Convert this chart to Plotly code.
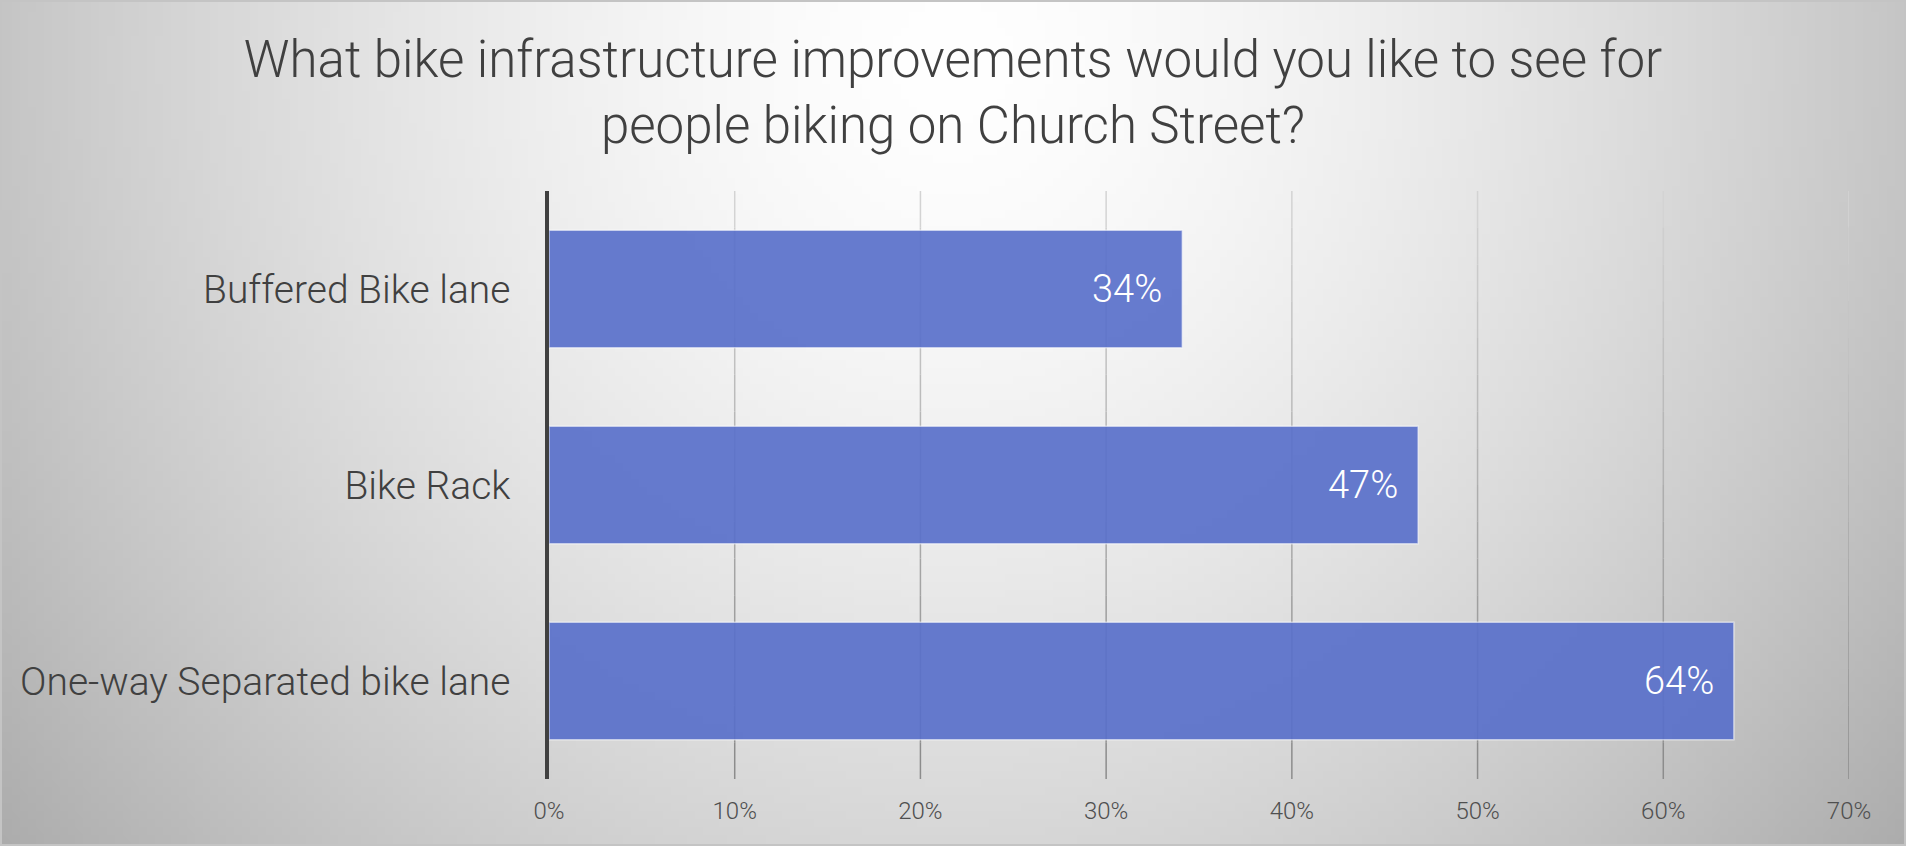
import base64
import struct
import zlib

import plotly.graph_objects as go

# ---------------- data ----------------
categories = ["Buffered Bike lane", "Bike Rack", "One-way Separated bike lane"]
values = [34.1, 46.8, 63.8]
label_texts = ["34%", "47%", "64%"]
tick_values = [0, 10, 20, 30, 40, 50, 60, 70]
tick_labels = ["0%", "10%", "20%", "30%", "40%", "50%", "60%", "70%"]
title_text = "What bike infrastructure improvements would you like to see for<br>people biking on Church Street?"

W, H = 1906, 846
ML, MR, MT, MB = 549, 57, 191, 67
PW, PH = W - ML - MR, H - MT - MB
FONT = "Roboto, Liberation Sans, sans-serif"


# ---------------- background gradient image ----------------
def gradient_png(pw, ph):
    rows = []
    for j in range(ph):
        row = bytearray([0])
        y = (j + 0.5) * H / ph
        for i in range(pw):
            x = (i + 0.5) * W / pw
            dx = (x - 953) / 960.0
            dy = (y - 60) / 1000.0
            d = (dx * dx + dy * dy) ** 0.5
            v = int(max(170, min(255, 255 - 58 * d ** 1.5)))
            row += bytes([v, v, v])
        rows.append(bytes(row))
    raw = b"".join(rows)

    def chunk(tag, data):
        c = struct.pack(">I", len(data)) + tag + data
        return c + struct.pack(">I", zlib.crc32(tag + data) & 0xFFFFFFFF)

    png = b"\x89PNG\r\n\x1a\n"
    png += chunk(b"IHDR", struct.pack(">IIBBBBB", pw, ph, 8, 2, 0, 0, 0))
    png += chunk(b"IDAT", zlib.compress(raw, 9))
    png += chunk(b"IEND", b"")
    return "data:image/png;base64," + base64.b64encode(png).decode()


bg = gradient_png(240, 107)

fig = go.Figure()
fig.add_trace(
    go.Bar(
        x=values,
        y=categories,
        orientation="h",
        marker=dict(color="rgba(89,112,202,0.92)", line=dict(color="rgba(255,255,255,0.55)", width=1.5)),
        hoverinfo="skip",
        showlegend=False,
    )
)

# data labels
for v, c, t in zip(values, categories, label_texts):
    fig.add_annotation(
        x=v, y=c, xref="x", yref="y", text=t, showarrow=False,
        xanchor="right", yanchor="middle", xshift=-18,
        font=dict(family=FONT, size=38, color="white", weight=300),
    )

# gridlines with vertical gradient
shapes = []
nseg = 16
top_c, bot_c = 214, 138
for tv in tick_values[1:]:
    for k in range(nseg):
        y0 = 1 - k / nseg
        y1 = 1 - (k + 1) / nseg
        t = (k + 0.5) / nseg
        c = int(top_c + (bot_c - top_c) * t)
        shapes.append(dict(
            type="line", xref="x", yref="y domain", x0=tv, x1=tv, y0=y0, y1=y1,
            line=dict(color=f"rgb({c},{c},{c})", width=1.5), layer="below",
        ))
# outer border of the chart area
shapes.append(dict(
    type="rect", xref="paper", yref="paper",
    x0=(1 - ML) / PW, x1=(W - 1 - ML) / PW,
    y0=-(MB - 1) / PH, y1=1 + (MT - 1) / PH,
    line=dict(color="#c4c4c4", width=2), layer="above",
))

fig.update_layout(
    width=W, height=H,
    margin=dict(l=ML, r=MR, t=MT, b=MB, autoexpand=False),
    paper_bgcolor="white",
    plot_bgcolor="rgba(0,0,0,0)",
    bargap=0.4,
    title=dict(
        text=title_text, x=0.5, xanchor="center", xref="container",
        y=1 - 77 / H, yref="container", yanchor="middle",
        font=dict(family=FONT, size=51, color="#404040", weight=300),
    ),
    images=[dict(source=bg, xref="paper", yref="paper", x=-ML / PW, y=1 + MT / PH,
                 sizex=W / PW, sizey=H / PH, sizing="stretch", xanchor="left", yanchor="top",
                 layer="below")],
    shapes=shapes,
    xaxis=dict(
        range=[0, 70], tickvals=tick_values, ticktext=tick_labels,
        showgrid=False, zeroline=False, showline=False,
        ticks="outside", ticklen=10, tickcolor="rgba(0,0,0,0)",
        tickfont=dict(family=FONT, size=24, color="#4f4f4f", weight=300),
        fixedrange=True,
    ),
    yaxis=dict(
        autorange="reversed", showgrid=False, zeroline=False,
        showline=True, linecolor="#404040", linewidth=3.5,
        ticks="outside", ticklen=27, tickcolor="rgba(0,0,0,0)",
        tickfont=dict(family=FONT, size=39, color="#404040", weight=300),
        fixedrange=True,
    ),
)

fig.write_html(
    "out.html",
    config={"displayModeBar": False},
    post_script="document.body.style.margin='0';document.body.style.overflow='hidden';",
)
